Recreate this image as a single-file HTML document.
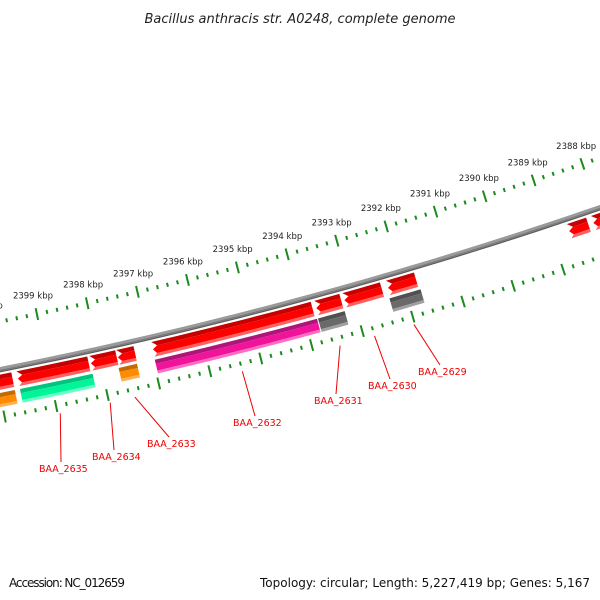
<!DOCTYPE html>
<html><head><meta charset="utf-8"><style>
html,body{margin:0;padding:0;background:#fff;}
svg{display:block;font-family:"DejaVu Sans","Liberation Sans",sans-serif;}
</style></head><body>
<svg id="map" width="600" height="600" viewBox="0 0 600 600" xmlns="http://www.w3.org/2000/svg">
<rect width="600" height="600" fill="#fff"/>
<text x="300" y="23" text-anchor="middle" font-size="13" font-style="italic" fill="#222">Bacillus anthracis str. A0248, complete genome</text>
<text x="9" y="587" font-size="12" fill="#111" textLength="116">Accession: NC_012659</text>
<text x="590" y="587" font-size="12" fill="#111" text-anchor="end" textLength="330">Topology: circular; Length: 5,227,419 bp; Genes: 5,167</text>
<g id="ticks"></g>
<g id="bb"></g>
<g id="feat"></g>
<g id="labs"></g>
</svg>
<script>
// data (kbp)
const row1Start = [2400.3, 2399.61, 2398.18, 2397.65, 2396.96, 2393.73, 2393.17, 2392.30, 2388.66, 2388.17];
const row1End   = [2399.71, 2398.22, 2397.67, 2397.31, 2393.80, 2393.23, 2392.42, 2391.74, 2388.27, 2387.5];
const row1Color = ['red','red','red','red','red','red','red','red','red','red'];
const row2Start = [2400.3, 2399.61, 2397.68, 2396.97, 2393.75, 2392.33, 2388.08];
const row2End   = [2399.71, 2398.19, 2397.32, 2393.77, 2393.22, 2391.71, 2387.5];
const row2Color = ['orange','teal','orange','pink','gray','gray','orange'];
const geneNames = ['BAA_2635','BAA_2634','BAA_2633','BAA_2632','BAA_2631','BAA_2630','BAA_2629'];
const geneKbp   = [2398.95, 2397.98, 2397.50, 2395.40, 2393.48, 2392.80, 2392.02];
const tickMin = 2386, tickMax = 2401, tickStep = 0.2;
// layout (label text anchor positions)
const labelPos = [[39,472],[92,460],[147,447],[233,426],[314,404],[368,389],[418,375]];

const NS='http://www.w3.org/2000/svg';
const CX=-883, CY=-4094, R0=4550, PHI0=0.26288, K=0.01143;
function pt(kbp,off){const p=PHI0+(2394-kbp)*K, r=R0+off;return [CX+r*Math.sin(p), CY+r*Math.cos(p)];}
function mk(tag,attrs,parent){const e=document.createElementNS(NS,tag);for(const k in attrs)e.setAttribute(k,attrs[k]);parent.appendChild(e);return e;}
function arc(k1,k2,off){const n=Math.max(2,Math.ceil(Math.abs(k1-k2)*4));const a=[];for(let i=0;i<=n;i++){a.push(pt(k1+(k2-k1)*i/n,off));}return a;}

// ticks
const tg=document.getElementById('ticks');
for(let i=Math.round(tickMin/tickStep);i<=Math.round(tickMax/tickStep);i++){
  const kb=i*tickStep, major=(i%5===0);
  [[-47,'upper'],[47,'lower']].forEach(([c,w])=>{
    const h=major?6:2;
    const a=pt(kb,c-h),b=pt(kb,c+h);
    const l=mk('line',{x1:a[0],y1:a[1],x2:b[0],y2:b[1],stroke:'#1c8a1c','stroke-width':2},tg);
    
    
  });
  if(major){
    const p=pt(kb,-66);
    const t=mk('text',{x:p[0],y:p[1]+3,'text-anchor':'middle','font-size':8.5,fill:'#222'},tg);
    t.textContent=Math.round(kb)+' kbp';
    
    
  }
}
// backbone
const bg=document.getElementById('bb');
function band(k1,k2,o1,o2,fill,parent,name){
  const top=arc(k1,k2,o1),bot=arc(k2,k1,o2);
  const d='M'+top.concat(bot).map(p=>p[0].toFixed(2)+','+p[1].toFixed(2)).join('L')+'Z';
  const e=mk('path',{d:d,fill:fill},parent);
  
  
}
band(2402,2385,-2.5,0,'#9a9a9a',bg,'backbone-top');
band(2402,2385,0,1.5,'#7a7a7a',bg,'backbone-mid');
band(2402,2385,1.5,2.8,'#5c5c5c',bg,'backbone-bottom');

// features
const pal={red:['#c80000','#ff0000','#ff6060'],teal:['#00c57c','#00f59a','#66ffc4'],pink:['#b0137a','#f0149a','#ff6cc0'],gray:['#505050','#6a6a6a','#a0a0a0'],orange:['#c46a00','#ff8c00','#ffb050']};
const fg=document.getElementById('feat');
function shape(ks,ke,top,bot,arrow,a,b,fill,name){
  const mid=(top+bot)/2,half=(bot-top)/2,H=arrow?0.16:0;
  const kl=o=>ks-H*(1-Math.abs(o-mid)/half);
  let pts=arc(kl(a),ke,a).concat(arc(ke,kl(b),b));
  if(arrow&&a<mid&&b>mid)pts.push(pt(ks,mid));
  const d='M'+pts.map(p=>p[0].toFixed(2)+','+p[1].toFixed(2)).join('L')+'Z';
  const e=mk('path',{d:d,fill:fill},fg);
  
  
}
function feature(ks,ke,top,bot,arrow,col,name){
  const c=pal[col],h=bot-top;
  shape(ks,ke,top,bot,arrow,top,top+h*0.3,c[0],name+'-shade');
  shape(ks,ke,top,bot,arrow,top+h*0.3,top+h*0.8,c[1],name);
  shape(ks,ke,top,bot,arrow,top+h*0.8,bot,c[2],name+'-light');
}
row1Start.forEach((s,i)=>feature(s,row1End[i],5,20,true,row1Color[i],'reverse-gene-'+(i+1)));
row2Start.forEach((s,i)=>feature(s,row2End[i],23,37,false,row2Color[i],'cds-'+(i+1)));

// labels
const lg=document.getElementById('labs');
geneNames.forEach((n,i)=>{
  const a=pt(geneKbp[i],55),L=labelPos[i];
  const l=mk('line',{x1:a[0],y1:a[1],x2:L[0]+22,y2:L[1]-10,stroke:'#ee0000','stroke-width':1},lg);
  
  
  const t=mk('text',{x:L[0],y:L[1],'font-size':9.5,fill:'#ee0000'},lg);
  t.textContent=n;
  
  
});
</script>
</body></html>
